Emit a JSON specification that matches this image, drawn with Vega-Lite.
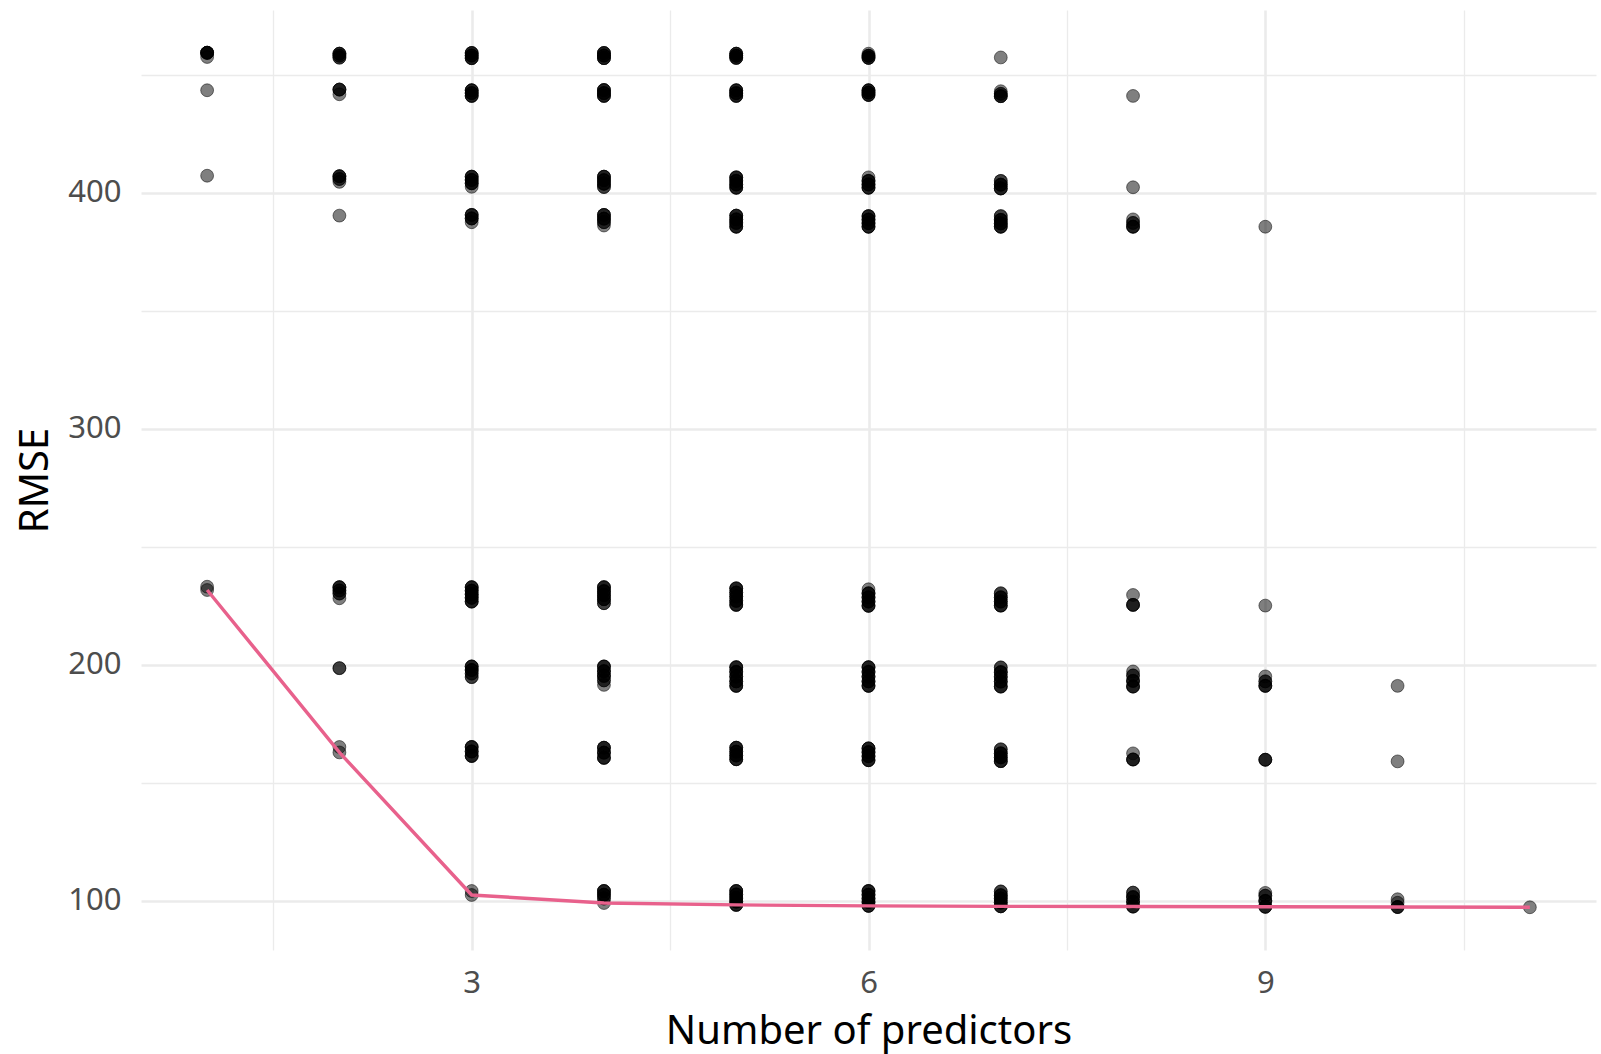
{
  "$schema": "https://vega.github.io/schema/vega-lite/v6.json",
  "autosize": {"type": "none"},
  "padding": {"left": 141, "top": 10, "right": 5, "bottom": 104},
  "width": 1455,
  "height": 940,
  "background": "white",
  "config": {
    "view": {"stroke": null},
    "font": "Noto Sans",
    "axis": {
      "domain": false,
      "ticks": false,
      "gridColor": "#ebebeb",
      "labelColor": "#4d4d4d",
      "labelFont": "Noto Sans",
      "labelFontSize": 31,
      "titleFont": "Noto Sans",
      "titleFontSize": 40,
      "titleFontWeight": "normal",
      "titleColor": "#000000"
    }
  },
  "data": {"values": [
    {"k":1,"r":459.3},{"k":1,"r":459.3},{"k":1,"r":459.3},{"k":1,"r":459.3},{"k":1,"r":459.3},{"k":1,"r":457.5},{"k":1,"r":443.4},{"k":1,"r":407.2},{"k":1,"r":233.1},{"k":1,"r":231.7},
    {"k":2,"r":458.9},{"k":2,"r":458.9},{"k":2,"r":458.9},{"k":2,"r":458},{"k":2,"r":458},{"k":2,"r":457.2},{"k":2,"r":457.2},
    {"k":2,"r":443.7},{"k":2,"r":443.7},{"k":2,"r":443.7},{"k":2,"r":441.7},
    {"k":2,"r":407},{"k":2,"r":407},{"k":2,"r":407},{"k":2,"r":405.8},{"k":2,"r":405.8},{"k":2,"r":404.6},
    {"k":2,"r":390.3},
    {"k":2,"r":232.9},{"k":2,"r":232.9},{"k":2,"r":232.9},{"k":2,"r":231.5},{"k":2,"r":231.5},{"k":2,"r":230.2},{"k":2,"r":230.2},{"k":2,"r":228.2},
    {"k":2,"r":198.6},{"k":2,"r":198.6},
    {"k":2,"r":165.2},{"k":2,"r":162.9},
    {"k":3,"r":459.2},{"k":3,"r":459.2},{"k":3,"r":459.2},{"k":3,"r":458.1},{"k":3,"r":458.1},{"k":3,"r":458.1},{"k":3,"r":457},{"k":3,"r":457},{"k":3,"r":457},
    {"k":3,"r":443.4},{"k":3,"r":443.4},{"k":3,"r":443.4},{"k":3,"r":442.2},{"k":3,"r":442.2},{"k":3,"r":442.2},{"k":3,"r":441},{"k":3,"r":441},{"k":3,"r":441},
    {"k":3,"r":406.8},{"k":3,"r":406.8},{"k":3,"r":406.8},{"k":3,"r":405.4},{"k":3,"r":405.4},{"k":3,"r":405.4},{"k":3,"r":404},{"k":3,"r":404},{"k":3,"r":404},{"k":3,"r":402.5},
    {"k":3,"r":390.6},{"k":3,"r":390.6},{"k":3,"r":390.6},{"k":3,"r":389.1},{"k":3,"r":389.1},{"k":3,"r":389.1},{"k":3,"r":387.5},
    {"k":3,"r":232.9},{"k":3,"r":232.9},{"k":3,"r":232.9},{"k":3,"r":231.4},{"k":3,"r":231.4},{"k":3,"r":231.4},{"k":3,"r":229.9},{"k":3,"r":229.9},{"k":3,"r":229.9},{"k":3,"r":228.4},{"k":3,"r":228.4},{"k":3,"r":228.4},{"k":3,"r":226.8},{"k":3,"r":226.8},{"k":3,"r":226.8},
    {"k":3,"r":199.3},{"k":3,"r":199.3},{"k":3,"r":199.3},{"k":3,"r":197.8},{"k":3,"r":197.8},{"k":3,"r":197.8},{"k":3,"r":196.3},{"k":3,"r":196.3},{"k":3,"r":194.8},{"k":3,"r":194.8},
    {"k":3,"r":165.2},{"k":3,"r":165.2},{"k":3,"r":165.2},{"k":3,"r":163.3},{"k":3,"r":163.3},{"k":3,"r":163.3},{"k":3,"r":161.4},{"k":3,"r":161.4},{"k":3,"r":161.4},
    {"k":3,"r":104.2},{"k":3,"r":102.5},
    {"k":4,"r":459.2},{"k":4,"r":459.2},{"k":4,"r":459.2},{"k":4,"r":458.1},{"k":4,"r":458.1},{"k":4,"r":458.1},{"k":4,"r":457},{"k":4,"r":457},{"k":4,"r":457},
    {"k":4,"r":443.5},{"k":4,"r":443.5},{"k":4,"r":443.5},{"k":4,"r":442.2},{"k":4,"r":442.2},{"k":4,"r":442.2},{"k":4,"r":441},{"k":4,"r":441},{"k":4,"r":441},
    {"k":4,"r":406.8},{"k":4,"r":406.8},{"k":4,"r":406.8},{"k":4,"r":405.3},{"k":4,"r":405.3},{"k":4,"r":405.3},{"k":4,"r":403.8},{"k":4,"r":403.8},{"k":4,"r":403.8},{"k":4,"r":402.4},{"k":4,"r":402.4},
    {"k":4,"r":390.6},{"k":4,"r":390.6},{"k":4,"r":390.6},{"k":4,"r":389},{"k":4,"r":389},{"k":4,"r":389},{"k":4,"r":387.5},{"k":4,"r":387.5},{"k":4,"r":386.1},
    {"k":4,"r":232.9},{"k":4,"r":232.9},{"k":4,"r":232.9},{"k":4,"r":231.2},{"k":4,"r":231.2},{"k":4,"r":231.2},{"k":4,"r":229.5},{"k":4,"r":229.5},{"k":4,"r":229.5},{"k":4,"r":227.8},{"k":4,"r":227.8},{"k":4,"r":227.8},{"k":4,"r":226.1},{"k":4,"r":226.1},
    {"k":4,"r":199.3},{"k":4,"r":199.3},{"k":4,"r":199.3},{"k":4,"r":197.3},{"k":4,"r":197.3},{"k":4,"r":197.3},{"k":4,"r":195.3},{"k":4,"r":195.3},{"k":4,"r":195.3},{"k":4,"r":193.4},{"k":4,"r":193.4},{"k":4,"r":191.5},
    {"k":4,"r":164.9},{"k":4,"r":164.9},{"k":4,"r":164.9},{"k":4,"r":162.8},{"k":4,"r":162.8},{"k":4,"r":162.8},{"k":4,"r":160.6},{"k":4,"r":160.6},{"k":4,"r":160.6},
    {"k":4,"r":104.2},{"k":4,"r":104.2},{"k":4,"r":104.2},{"k":4,"r":102.6},{"k":4,"r":102.6},{"k":4,"r":102.6},{"k":4,"r":101},{"k":4,"r":101},{"k":4,"r":99.1},
    {"k":5,"r":458.9},{"k":5,"r":458.9},{"k":5,"r":458.9},{"k":5,"r":458},{"k":5,"r":458},{"k":5,"r":458},{"k":5,"r":457.1},{"k":5,"r":457.1},{"k":5,"r":457.1},
    {"k":5,"r":443.4},{"k":5,"r":443.4},{"k":5,"r":443.4},{"k":5,"r":442.2},{"k":5,"r":442.2},{"k":5,"r":442.2},{"k":5,"r":441},{"k":5,"r":441},{"k":5,"r":441},
    {"k":5,"r":406.5},{"k":5,"r":406.5},{"k":5,"r":406.5},{"k":5,"r":405},{"k":5,"r":405},{"k":5,"r":405},{"k":5,"r":403.5},{"k":5,"r":403.5},{"k":5,"r":403.5},{"k":5,"r":402.1},{"k":5,"r":402.1},{"k":5,"r":402.1},
    {"k":5,"r":390.3},{"k":5,"r":390.3},{"k":5,"r":390.3},{"k":5,"r":388.7},{"k":5,"r":388.7},{"k":5,"r":388.7},{"k":5,"r":387.2},{"k":5,"r":387.2},{"k":5,"r":387.2},{"k":5,"r":385.6},{"k":5,"r":385.6},{"k":5,"r":385.6},
    {"k":5,"r":232.4},{"k":5,"r":232.4},{"k":5,"r":232.4},{"k":5,"r":230.6},{"k":5,"r":230.6},{"k":5,"r":230.6},{"k":5,"r":228.9},{"k":5,"r":228.9},{"k":5,"r":228.9},{"k":5,"r":227.1},{"k":5,"r":227.1},{"k":5,"r":227.1},{"k":5,"r":225.4},{"k":5,"r":225.4},{"k":5,"r":225.4},
    {"k":5,"r":199},{"k":5,"r":199},{"k":5,"r":199},{"k":5,"r":197},{"k":5,"r":197},{"k":5,"r":197},{"k":5,"r":195},{"k":5,"r":195},{"k":5,"r":195},{"k":5,"r":193},{"k":5,"r":193},{"k":5,"r":193},{"k":5,"r":191.1},{"k":5,"r":191.1},{"k":5,"r":191.1},
    {"k":5,"r":164.9},{"k":5,"r":164.9},{"k":5,"r":164.9},{"k":5,"r":163.2},{"k":5,"r":163.2},{"k":5,"r":163.2},{"k":5,"r":161.6},{"k":5,"r":161.6},{"k":5,"r":161.6},{"k":5,"r":160},{"k":5,"r":160},{"k":5,"r":160},
    {"k":5,"r":104.2},{"k":5,"r":104.2},{"k":5,"r":104.2},{"k":5,"r":102.7},{"k":5,"r":102.7},{"k":5,"r":102.7},{"k":5,"r":101.2},{"k":5,"r":101.2},{"k":5,"r":101.2},{"k":5,"r":99.7},{"k":5,"r":99.7},{"k":5,"r":99.7},{"k":5,"r":98.3},{"k":5,"r":98.3},{"k":5,"r":98.3},
    {"k":6,"r":458.9},{"k":6,"r":458},{"k":6,"r":458},{"k":6,"r":458},{"k":6,"r":457.1},{"k":6,"r":457.1},{"k":6,"r":457.1},
    {"k":6,"r":443.4},{"k":6,"r":443.4},{"k":6,"r":443.4},{"k":6,"r":442.4},{"k":6,"r":442.4},{"k":6,"r":442.4},{"k":6,"r":441.4},{"k":6,"r":441.4},{"k":6,"r":441.4},
    {"k":6,"r":406.5},{"k":6,"r":405},{"k":6,"r":405},{"k":6,"r":405},{"k":6,"r":403.5},{"k":6,"r":403.5},{"k":6,"r":403.5},{"k":6,"r":402.1},{"k":6,"r":402.1},{"k":6,"r":402.1},
    {"k":6,"r":390.1},{"k":6,"r":390.1},{"k":6,"r":390.1},{"k":6,"r":388.6},{"k":6,"r":388.6},{"k":6,"r":388.6},{"k":6,"r":387.1},{"k":6,"r":387.1},{"k":6,"r":387.1},{"k":6,"r":385.6},{"k":6,"r":385.6},{"k":6,"r":385.6},
    {"k":6,"r":232},{"k":6,"r":230.3},{"k":6,"r":230.3},{"k":6,"r":230.3},{"k":6,"r":228.6},{"k":6,"r":228.6},{"k":6,"r":228.6},{"k":6,"r":226.8},{"k":6,"r":226.8},{"k":6,"r":226.8},{"k":6,"r":225},{"k":6,"r":225},{"k":6,"r":225},
    {"k":6,"r":199},{"k":6,"r":199},{"k":6,"r":199},{"k":6,"r":197},{"k":6,"r":197},{"k":6,"r":197},{"k":6,"r":195},{"k":6,"r":195},{"k":6,"r":195},{"k":6,"r":193},{"k":6,"r":193},{"k":6,"r":193},{"k":6,"r":191.1},{"k":6,"r":191.1},{"k":6,"r":191.1},
    {"k":6,"r":164.6},{"k":6,"r":164.6},{"k":6,"r":164.6},{"k":6,"r":163},{"k":6,"r":163},{"k":6,"r":163},{"k":6,"r":161.3},{"k":6,"r":161.3},{"k":6,"r":161.3},{"k":6,"r":159.6},{"k":6,"r":159.6},{"k":6,"r":159.6},
    {"k":6,"r":104.2},{"k":6,"r":104.2},{"k":6,"r":104.2},{"k":6,"r":102.6},{"k":6,"r":102.6},{"k":6,"r":102.6},{"k":6,"r":101},{"k":6,"r":101},{"k":6,"r":101},{"k":6,"r":99.5},{"k":6,"r":99.5},{"k":6,"r":99.5},{"k":6,"r":97.9},{"k":6,"r":97.9},{"k":6,"r":97.9},
    {"k":7,"r":457.3},
    {"k":7,"r":443},{"k":7,"r":441.9},{"k":7,"r":441.9},{"k":7,"r":440.9},{"k":7,"r":440.9},{"k":7,"r":440.9},
    {"k":7,"r":405},{"k":7,"r":405},{"k":7,"r":403.4},{"k":7,"r":403.4},{"k":7,"r":403.4},{"k":7,"r":401.8},{"k":7,"r":401.8},{"k":7,"r":401.8},
    {"k":7,"r":390.1},{"k":7,"r":390.1},{"k":7,"r":388.5},{"k":7,"r":388.5},{"k":7,"r":388.5},{"k":7,"r":387},{"k":7,"r":387},{"k":7,"r":387},{"k":7,"r":385.6},{"k":7,"r":385.6},{"k":7,"r":385.6},
    {"k":7,"r":230.3},{"k":7,"r":230.3},{"k":7,"r":228.6},{"k":7,"r":228.6},{"k":7,"r":228.6},{"k":7,"r":226.8},{"k":7,"r":226.8},{"k":7,"r":226.8},{"k":7,"r":225.1},{"k":7,"r":225.1},{"k":7,"r":225.1},
    {"k":7,"r":198.9},{"k":7,"r":198.9},{"k":7,"r":196.9},{"k":7,"r":196.9},{"k":7,"r":196.9},{"k":7,"r":194.9},{"k":7,"r":194.9},{"k":7,"r":194.9},{"k":7,"r":192.9},{"k":7,"r":192.9},{"k":7,"r":192.9},{"k":7,"r":190.8},{"k":7,"r":190.8},{"k":7,"r":190.8},
    {"k":7,"r":164.2},{"k":7,"r":164.2},{"k":7,"r":162.5},{"k":7,"r":162.5},{"k":7,"r":162.5},{"k":7,"r":160.8},{"k":7,"r":160.8},{"k":7,"r":160.8},{"k":7,"r":159.2},{"k":7,"r":159.2},{"k":7,"r":159.2},
    {"k":7,"r":104},{"k":7,"r":104},{"k":7,"r":102.4},{"k":7,"r":102.4},{"k":7,"r":102.4},{"k":7,"r":100.9},{"k":7,"r":100.9},{"k":7,"r":100.9},{"k":7,"r":99.3},{"k":7,"r":99.3},{"k":7,"r":99.3},{"k":7,"r":97.7},{"k":7,"r":97.7},{"k":7,"r":97.7},
    {"k":8,"r":441},{"k":8,"r":402.3},
    {"k":8,"r":388.7},{"k":8,"r":387.2},{"k":8,"r":387.2},{"k":8,"r":385.6},{"k":8,"r":385.6},{"k":8,"r":385.6},
    {"k":8,"r":229.6},{"k":8,"r":225.4},{"k":8,"r":225.4},{"k":8,"r":225.4},
    {"k":8,"r":197.2},{"k":8,"r":195.5},{"k":8,"r":195.5},{"k":8,"r":193.2},{"k":8,"r":193.2},{"k":8,"r":193.2},{"k":8,"r":190.8},{"k":8,"r":190.8},{"k":8,"r":190.8},
    {"k":8,"r":162.5},{"k":8,"r":159.9},{"k":8,"r":159.9},{"k":8,"r":159.9},
    {"k":8,"r":103.5},{"k":8,"r":103.5},{"k":8,"r":101.6},{"k":8,"r":101.6},{"k":8,"r":101.6},{"k":8,"r":99.6},{"k":8,"r":99.6},{"k":8,"r":99.6},{"k":8,"r":97.6},{"k":8,"r":97.6},{"k":8,"r":97.6},
    {"k":9,"r":385.6},{"k":9,"r":225.1},
    {"k":9,"r":195.1},{"k":9,"r":193},{"k":9,"r":193},{"k":9,"r":191.1},{"k":9,"r":191.1},{"k":9,"r":191.1},
    {"k":9,"r":159.8},{"k":9,"r":159.8},{"k":9,"r":159.8},
    {"k":9,"r":103.4},{"k":9,"r":102.2},{"k":9,"r":102.2},{"k":9,"r":100},{"k":9,"r":100},{"k":9,"r":100},{"k":9,"r":97.5},{"k":9,"r":97.5},{"k":9,"r":97.5},
    {"k":10,"r":191.1},{"k":10,"r":159.1},
    {"k":10,"r":100.7},{"k":10,"r":99.2},{"k":10,"r":97.4},{"k":10,"r":97.4},{"k":10,"r":97.4},
    {"k":11,"r":97.3}
  ]},
  "layer": [
    {
      "mark": {"type": "point", "filled": true, "shape": "circle", "size": 165, "color": "#000000", "fillOpacity": 0.5, "strokeOpacity": 0.5, "strokeWidth": 1, "stroke": "#000000"},
      "encoding": {
        "x": {
          "field": "k", "type": "quantitative",
          "scale": {"domain": [0.5, 11.5], "nice": false, "zero": false},
          "axis": {
            "title": "Number of predictors",
            "values": [1.5, 3, 4.5, 6, 7.5, 9, 10.5],
            "format": "d",
            "labelExpr": "datum.value % 3 === 0 ? datum.label : ''",
            "gridWidth": {"condition": {"test": "datum.value % 3 === 0", "value": 2.6}, "value": 1.3},
            "labelPadding": 18,
            "titlePadding": 13
          }
        },
        "y": {
          "field": "r", "type": "quantitative",
          "scale": {"domain": [79.2, 477.4], "nice": false, "zero": false},
          "axis": {
            "title": "RMSE",
            "values": [100, 150, 200, 250, 300, 350, 400, 450],
            "format": "d",
            "labelExpr": "datum.value % 100 === 0 ? datum.label : ''",
            "gridWidth": {"condition": {"test": "datum.value % 100 === 0", "value": 2.6}, "value": 1.3},
            "labelPadding": 20,
            "titlePadding": 12
          }
        }
      }
    },
    {
      "mark": {"type": "line", "color": "#E8618C", "strokeWidth": 3.4},
      "encoding": {
        "x": {"field": "k", "type": "quantitative"},
        "y": {"field": "r", "type": "quantitative", "aggregate": "min"}
      }
    }
  ]
}
